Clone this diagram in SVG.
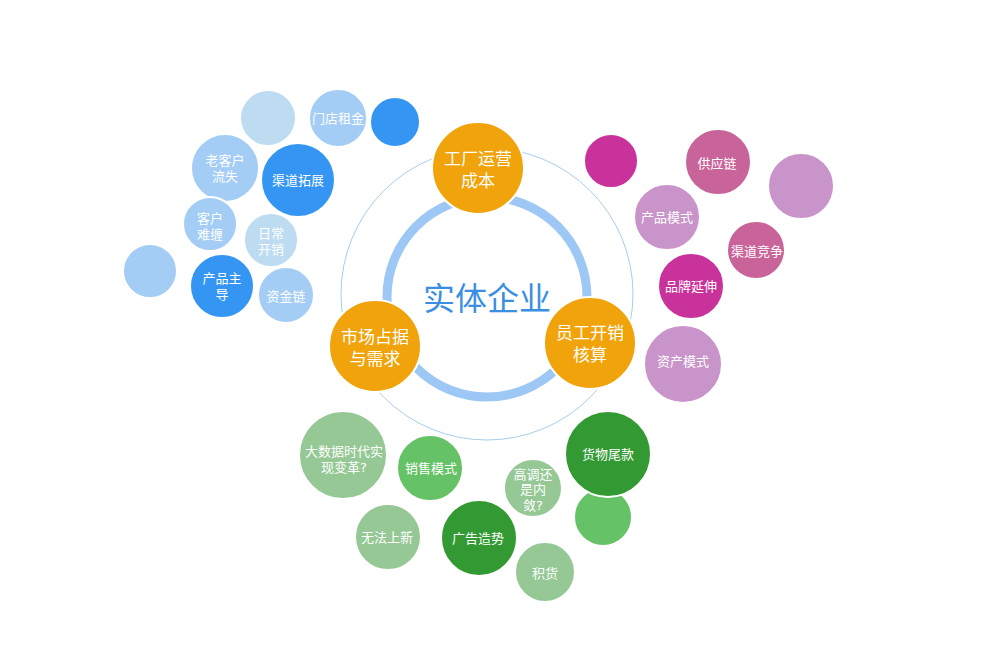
<svg xmlns="http://www.w3.org/2000/svg" width="995" height="646" viewBox="0 0 995 646">
<style>
.b{stroke:#fff;stroke-width:2}
.t{font-family:"DejaVu Sans","Noto Sans CJK SC",sans-serif;fill:#fff;text-anchor:middle;font-size:13px}
.to{font-family:"DejaVu Sans","Noto Sans CJK SC",sans-serif;fill:#fff;text-anchor:middle;font-size:17px}
.lb{fill:#a3cdf5}.vb{fill:#bddcf2}.db{fill:#3496f2}
.mg{fill:#c9329a}.rp{fill:#c9649b}.lp{fill:#c994c9}
.lg{fill:#95c895}.mgr{fill:#66c266}.dg{fill:#339a33}
.or{fill:#f0a30a}
</style>
<rect width="995" height="646" fill="#fff"/>
<g id="rings">
<circle cx="487" cy="294" r="146" fill="none" stroke="#a9cdea" stroke-width="1"/>
<circle cx="487" cy="297" r="100" fill="none" stroke="#9dc8f5" stroke-width="9"/>
</g>
<g id="center"><text x="487" y="310" font-family="'Noto Sans CJK SC',sans-serif" font-size="32" fill="#3a8fe3" text-anchor="middle">实体企业</text></g>
<g id="factory"><circle class="b or" cx="478" cy="168" r="46"/><text class="to" x="478" y="165">工厂运营</text><text class="to" x="478" y="187">成本</text></g>
<g id="market"><circle class="b or" cx="375" cy="346" r="46"/><text class="to" x="375" y="343">市场占据</text><text class="to" x="375" y="365">与需求</text></g>
<g id="staff"><circle class="b or" cx="590" cy="343" r="46"/><text class="to" x="590" y="339">员工开销</text><text class="to" x="590" y="361">核算</text></g>

<g id="b-plain1"><circle class="b vb" cx="268" cy="118" r="28"/></g>
<g id="b-rent"><circle class="b lb" cx="338" cy="118" r="29"/><text class="t" x="338" y="123">门店租金</text></g>
<g id="b-plain2"><circle class="b db" cx="395" cy="122" r="25"/></g>
<g id="b-oldcust"><circle class="b lb" cx="225" cy="168" r="34"/><text class="t" x="225" y="165">老客户</text><text class="t" x="225" y="181">流失</text></g>
<g id="b-channel"><circle class="b db" cx="298" cy="180" r="37"/><text class="t" x="298" y="185">渠道拓展</text></g>
<g id="b-hardcust"><circle class="b lb" cx="210" cy="224" r="27"/><text class="t" x="210" y="222.5">客户</text><text class="t" x="210" y="238.5">难缠</text></g>
<g id="b-daily"><circle class="b vb" cx="271" cy="240" r="27"/><text class="t" x="271" y="238">日常</text><text class="t" x="271" y="254">开销</text></g>
<g id="b-plain3"><circle class="b lb" cx="150" cy="271" r="27"/></g>
<g id="b-product"><circle class="b db" cx="222" cy="286" r="32"/><text class="t" x="222" y="283">产品主</text><text class="t" x="222" y="299">导</text></g>
<g id="b-capital"><circle class="b lb" cx="286" cy="295" r="28"/><text class="t" x="286" y="301">资金链</text></g>

<g id="p-plain1"><circle class="b mg" cx="611" cy="161" r="27"/></g>
<g id="p-supply"><circle class="b rp" cx="718" cy="162" r="33"/><text class="t" x="717" y="168">供应链</text></g>
<g id="p-plain2"><circle class="b lp" cx="801" cy="186" r="33"/></g>
<g id="p-prodmode"><circle class="b lp" cx="667" cy="217" r="33"/><text class="t" x="667" y="222">产品模式</text></g>
<g id="p-chcomp"><circle class="b rp" cx="756" cy="250" r="29"/><text class="t" x="757" y="256">渠道竞争</text></g>
<g id="p-brand"><circle class="b mg" cx="691" cy="286" r="33"/><text class="t" x="691" y="291">品牌延伸</text></g>
<g id="p-asset"><circle class="b lp" cx="683" cy="364" r="39"/><text class="t" x="683" y="366">资产模式</text></g>

<g id="g-bigdata"><circle class="b lg" cx="343" cy="455" r="44"/><text class="t" x="344" y="456">大数据时代实</text><text class="t" x="344" y="472">现变革?</text></g>
<g id="g-sales"><circle class="b mgr" cx="430" cy="468" r="33"/><text class="t" x="431" y="473">销售模式</text></g>
<g id="g-tone"><circle class="b lg" cx="533" cy="488" r="29"/><text class="t" x="533" y="478.5">高调还</text><text class="t" x="533" y="494">是内</text><text class="t" x="533" y="509.5">敛?</text></g>
<g id="g-plain"><circle class="b mgr" cx="603" cy="517" r="29"/></g>
<g id="g-goods"><circle class="b dg" cx="608" cy="454" r="43"/><text class="t" x="608" y="459">货物尾款</text></g>
<g id="g-nonew"><circle class="b lg" cx="388" cy="537" r="33"/><text class="t" x="387" y="542">无法上新</text></g>
<g id="g-ads"><circle class="b dg" cx="479" cy="538" r="38"/><text class="t" x="478" y="543">广告造势</text></g>
<g id="g-stock"><circle class="b lg" cx="545" cy="572" r="30"/><text class="t" x="545" y="578">积货</text></g>
</svg>
